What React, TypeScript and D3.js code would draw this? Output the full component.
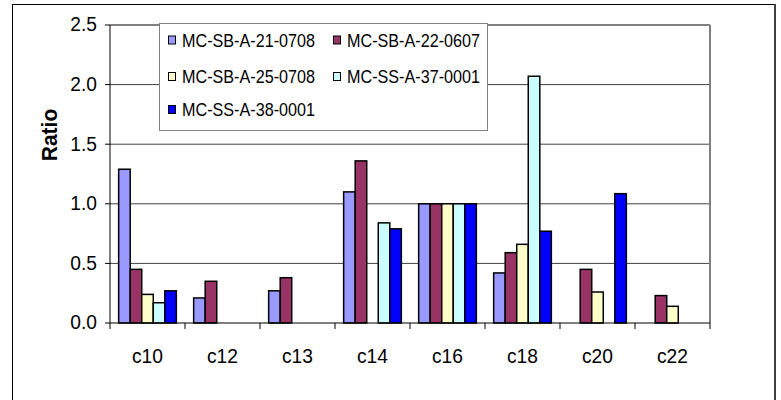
import React from "react";
import * as d3 from "d3";

const categories = ["c10", "c12", "c13", "c14", "c16", "c18", "c20", "c22"];
const seriesNames = ["MC-SB-A-21-0708", "MC-SB-A-22-0607", "MC-SB-A-25-0708", "MC-SS-A-37-0001", "MC-SS-A-38-0001"];
const seriesColors = ["#9999FF", "#993366", "#FFFFCC", "#CCFFFF", "#0000FF"];
const s21: (number | null)[] = [1.29, 0.21, 0.27, 1.10, 1.0, 0.42, null, null];
const s22: (number | null)[] = [0.45, 0.35, 0.38, 1.36, 1.0, 0.59, 0.45, 0.23];
const s25: (number | null)[] = [0.24, null, null, null, 1.0, 0.66, 0.26, 0.14];
const s37: (number | null)[] = [0.17, null, null, 0.84, 1.0, 2.07, null, null];
const s38: (number | null)[] = [0.27, null, null, 0.79, 1.0, 0.77, 1.085, null];
const seriesValues = [s21, s22, s25, s37, s38];
const yTicks = [0, 0.5, 1.0, 1.5, 2.0, 2.5];

const W = 781;
const H = 400;
const plot = { left: 110, right: 710, top: 25, bottom: 323 };
const font = "'Liberation Sans', Arial, sans-serif";

export default function App() {
  const x0 = d3.scaleBand<string>().domain(categories).range([plot.left, plot.right]).paddingInner(0).paddingOuter(0);
  const x1 = d3.scaleBand<string>().domain(seriesNames).range([0, x0.bandwidth()]).paddingInner(0).paddingOuter(0.75);
  const y = d3.scaleLinear().domain([0, 2.5]).range([plot.bottom, plot.top]);

  const legendRows = [40, 76.5, 109.5];
  const legendCols = [168, 333];

  return (
    <svg width={W} height={H} style={{ position: "absolute", left: 0, top: 0, background: "#fff" }} fontFamily={font}>
      {/* outer frame */}
      <rect x={12.5} y={4.5} width={762} height={420} fill="#fff" stroke="#000" strokeWidth={1} />
      <line x1={775} x2={775} y1={4} y2={400} stroke="#404040" strokeWidth={2} />

      {/* gridlines */}
      {yTicks.filter((t) => t > 0 && t < 2.5).map((t) => (
        <line key={"g" + t} x1={plot.left} x2={plot.right} y1={y(t)} y2={y(t)} stroke="#404040" strokeWidth={1} />
      ))}
      {/* plot border top/right */}
      <line x1={plot.left} x2={plot.right} y1={y(2.5)} y2={y(2.5)} stroke="#808080" strokeWidth={2} />
      <line x1={plot.right} x2={plot.right} y1={plot.top} y2={plot.bottom} stroke="#808080" strokeWidth={2} />

      {/* bars */}
      {categories.map((c, ci) => (
        <g key={c}>
          {seriesNames.map((s, si) => {
            const v = seriesValues[si][ci];
            if (v === null || v === undefined) return null;
            const bx = (x0(c) as number) + (x1(s) as number);
            return (
              <rect key={s} x={bx} y={y(v)} width={x1.bandwidth()} height={y(0) - y(v)}
                fill={seriesColors[si]} stroke="#000" strokeWidth={1.5} />
            );
          })}
        </g>
      ))}

      {/* axes */}
      <line x1={plot.left} x2={plot.left} y1={plot.top} y2={plot.bottom} stroke="#000" strokeWidth={1} />
      <line x1={plot.left} x2={plot.right} y1={plot.bottom} y2={plot.bottom} stroke="#000" strokeWidth={1} />
      {yTicks.map((t) => (
        <g key={"yt" + t}>
          <line x1={plot.left - 5} x2={plot.left} y1={y(t)} y2={y(t)} stroke="#000" />
          <text transform={`translate(97,${y(t) - 1}) scale(1,1.1)`} dy="0.35em" textAnchor="end" fontSize={19.2} fill="#000">{t.toFixed(1)}</text>
        </g>
      ))}
      {d3.range(categories.length + 1).map((i) => {
        const xx = plot.left + i * x0.step();
        return <line key={"xt" + i} x1={xx} x2={xx} y1={plot.bottom} y2={plot.bottom + 6} stroke="#000" />;
      })}
      {categories.map((c) => (
        <text key={"xl" + c} transform={`translate(${(x0(c) as number) + x0.bandwidth() / 2},363) scale(1,1.1)`} textAnchor="middle" fontSize={19.2} fill="#000">{c}</text>
      ))}
      <text transform="translate(56.5,135) rotate(-90) scale(1.0,1.08)" textAnchor="middle" fontSize={21} fontWeight="bold" fill="#000">Ratio</text>

      {/* legend */}
      <rect x={159.5} y={23.5} width={328} height={107} fill="#fff" stroke="#808080" strokeWidth={1} />
      {seriesNames.map((s, i) => {
        const col = i % 2;
        const row = Math.floor(i / 2);
        const lx = legendCols[col];
        const ly = legendRows[row];
        return (
          <g key={"lg" + s}>
            <rect x={lx + 0.5} y={ly - 4} width={7} height={8} fill={seriesColors[i]} stroke="#000" strokeWidth={1} />
            <text x={lx + 14} y={ly} dy="0.36em" fontSize={18.5} fill="#000" textLength={133} lengthAdjust="spacingAndGlyphs">{s}</text>
          </g>
        );
      })}
    </svg>
  );
}
